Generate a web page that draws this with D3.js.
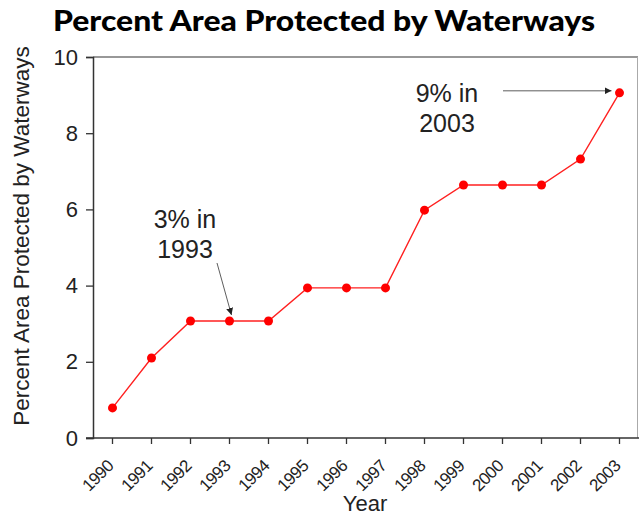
<!DOCTYPE html>
<html><head><meta charset="utf-8">
<script src="https://cdn.jsdelivr.net/npm/d3@7"></script>
<style>body{margin:0;background:#fff}svg{display:block}text{font-family:"Liberation Sans",Arial,sans-serif}</style>
</head><body>
<svg id="c" width="639" height="515"></svg>
<script>
const years = ["1990","1991","1992","1993","1994","1995","1996","1997","1998","1999","2000","2001","2002","2003"];
const values = [0.79, 2.1, 3.07, 3.07, 3.07, 3.94, 3.94, 3.94, 5.98, 6.64, 6.64, 6.64, 7.32, 9.06];
const yTicks = [0, 2, 4, 6, 8, 10];
const title = "Percent Area Protected by Waterways";
const yTitle = "Percent Area Protected by Waterways";
const xTitle = "Year";
const notes = [
  {lines:["3% in","1993"], year:"1993"},
  {lines:["9% in","2003"], year:"2003"}
];

const svg = d3.select("#c");
const L = 93, R = 639, T = 57, B = 438;
const x = d3.scaleBand().domain(years).range([L, R]);
const y = d3.scaleLinear().domain([0, 10]).range([B, T]);
const cx = d => x(d) + x.bandwidth() / 2;
const FONT = "'Liberation Sans', Arial, sans-serif";

svg.append("text").attr("x", 53).attr("y", 31).attr("textLength", 542)
  .attr("lengthAdjust", "spacingAndGlyphs")
  .style("font-family", "Lato, 'DejaVu Sans', sans-serif").style("font-weight", 900)
  .style("font-size", "29px").text(title);

// frame
svg.append("line").attr("x1", L).attr("x2", R - 1).attr("y1", T).attr("y2", T).attr("stroke", "#333").attr("stroke-width", 1.2);
svg.append("line").attr("x1", R - 1.5).attr("x2", R - 1.5).attr("y1", T).attr("y2", B).attr("stroke", "#aaa").attr("stroke-width", 1);

// y axis
const ya = svg.append("g").attr("transform", `translate(${L},0)`)
  .call(d3.axisLeft(y).tickValues(yTicks).tickSize(7).tickPadding(8));
ya.select(".domain").attr("stroke", "#333").attr("stroke-width", 1.5);
ya.selectAll(".tick line").attr("stroke", "#333").attr("stroke-width", 1.3);
ya.selectAll(".tick text").style("font-size", "22px").attr("fill", "#222").style("font-family", FONT);

// x axis
const xa = svg.append("g").attr("transform", `translate(0,${B})`)
  .call(d3.axisBottom(x).tickSize(6).tickSizeOuter(0));
xa.select(".domain").attr("stroke", "#333").attr("stroke-width", 1.5).attr("d", `M${L - 7},0H${R}`);
xa.selectAll(".tick line").attr("stroke", "#333").attr("stroke-width", 1.3);
xa.selectAll(".tick text").style("font-size", "17px").attr("fill", "#222").style("font-family", FONT)
  .style("letter-spacing", "-0.5px")
  .attr("text-anchor", "end").attr("dy", null).attr("y", 0)
  .attr("transform", "translate(2,29) rotate(-45)");

svg.append("text").attr("transform", `translate(29,236) rotate(-90)`).attr("text-anchor", "middle")
  .style("font-size", "22.5px").attr("fill", "#222").text(yTitle);
svg.append("text").attr("x", 365).attr("y", 511).attr("text-anchor", "middle")
  .style("font-size", "22px").attr("fill", "#222").text(xTitle);

// line & points
svg.append("path").datum(values)
  .attr("d", d3.line().x((d, i) => cx(years[i])).y(d => y(d)))
  .attr("fill", "none").attr("stroke", "#ff2020").attr("stroke-width", 1.4);
svg.selectAll("circle.p").data(values).join("circle").attr("class", "p")
  .attr("cx", (d, i) => cx(years[i])).attr("cy", d => y(d)).attr("r", 4.5).attr("fill", "#ff0000");

// annotations
const defs = svg.append("defs");
defs.append("marker").attr("id", "ah").attr("viewBox", "0 0 10 10").attr("refX", 10).attr("refY", 5)
  .attr("markerWidth", 7).attr("markerHeight", 7).attr("markerUnits", "userSpaceOnUse").attr("orient", "auto")
  .append("path").attr("d", "M0,0L10,5L0,10z").attr("fill", "#222");

const n1 = notes[0], v1 = values[years.indexOf(n1.year)];
svg.append("text").attr("text-anchor", "middle").style("font-size", "25px").attr("fill", "#222")
  .selectAll("tspan").data(n1.lines).join("tspan").attr("x", 185).attr("y", (d, i) => 228 + i * 30).text(d => d);
svg.append("line").attr("x1", 217).attr("y1", 263).attr("x2", cx(n1.year) + 2).attr("y2", y(v1) - 6)
  .attr("stroke", "#333").attr("stroke-width", 0.8).attr("marker-end", "url(#ah)");

const n2 = notes[1], v2 = values[years.indexOf(n2.year)];
svg.append("text").attr("text-anchor", "middle").style("font-size", "25px").attr("fill", "#222")
  .selectAll("tspan").data(n2.lines).join("tspan").attr("x", 447).attr("y", (d, i) => 102 + i * 30).text(d => d);
svg.append("line").attr("x1", 503).attr("y1", y(v2) - 2).attr("x2", cx(n2.year) - 8).attr("y2", y(v2) - 2)
  .attr("stroke", "#333").attr("stroke-width", 0.8).attr("marker-end", "url(#ah)");
</script>
</body></html>
